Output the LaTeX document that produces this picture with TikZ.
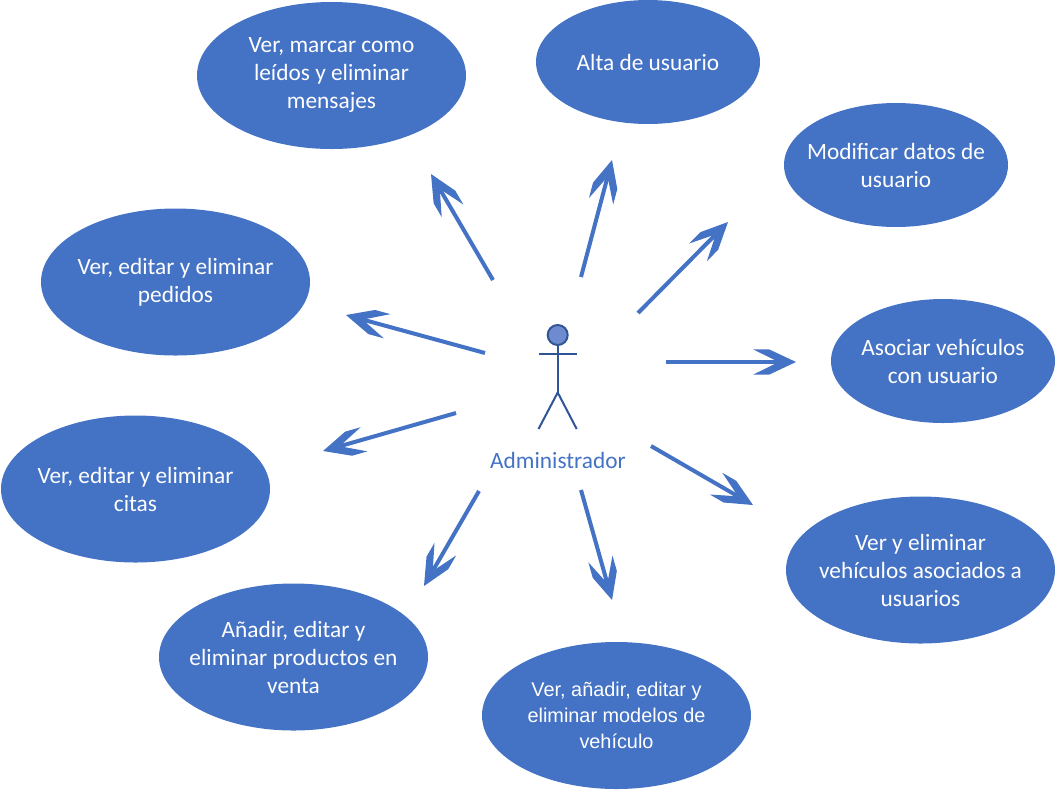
\documentclass[tikz,border=0pt]{standalone}
\usepackage{fontspec}
\setmainfont{Carlito}
\newfontfamily\arialfont{Liberation Sans}
\usetikzlibrary{shapes.geometric, arrows.meta, positioning}

\definecolor{caseblue}{HTML}{4472C4}
\definecolor{actorline}{HTML}{2F5597}
\definecolor{actorfill}{HTML}{6F8BCF}

% barbed head with the flat step on its shoulders
\pgfdeclarearrow{
    name=CaseHead,
    setup code={
        \pgfarrowssettipend{0pt}
        \pgfarrowssetlineend{-15pt}
        \pgfarrowssetbackend{-32pt}
        \pgfarrowssetvisualbackend{-15pt}
        \pgfarrowshullpoint{0pt}{0pt}
        \pgfarrowshullpoint{-32pt}{9.4pt}
        \pgfarrowshullpoint{-32pt}{-9.4pt}
    },
    drawing code={
        \pgfpathmoveto{\pgfqpoint{0pt}{0pt}}
        \pgfpathlineto{\pgfqpoint{-20pt}{9.4pt}}
        \pgfpathlineto{\pgfqpoint{-32pt}{9.4pt}}
        \pgfpathlineto{\pgfqpoint{-16pt}{1.5pt}}
        \pgfpathlineto{\pgfqpoint{-16pt}{-1.5pt}}
        \pgfpathlineto{\pgfqpoint{-32pt}{-9.4pt}}
        \pgfpathlineto{\pgfqpoint{-20pt}{-9.4pt}}
        \pgfpathclose
        \pgfusepathqfill
    }
}

\tikzset{
    usecase/.style={ellipse, fill=caseblue, text=white, align=center, inner ysep=0pt, inner xsep=-30pt, font=\fontsize{17.5}{21}\selectfont},
    bigcase/.style={usecase, minimum width=269*0.75pt, minimum height=147*0.75pt},
    smallcase/.style={usecase, minimum width=224*0.75pt, minimum height=124*0.75pt},
    assoc/.style={-CaseHead, line width=3pt, caseblue},
    stick/.style={actorline, line width=1.5pt}
}

\begin{document}
\begin{tikzpicture}[x=0.75pt, y=-0.75pt]

\useasboundingbox (0,0) rectangle (1056,790);

\node[bigcase] (mensajes) at (331.5,75.5) {Ver, marcar como\\leídos y eliminar\\mensajes};
\node[smallcase] (alta) at (648,62) {Alta de usuario};
\node[smallcase] (modificar) at (896,165) {Modificar datos de\\usuario};
\node[smallcase] (asociar) at (943,361) {Asociar vehículos\\con usuario};
\node[bigcase] (asociados) at (920.5,570) {Ver y eliminar\\vehículos asociados a\\usuarios};
\node[bigcase, font=\arialfont\fontsize{14.9}{19.5}\selectfont] (modelos) at (616.5,715.5) {Ver, añadir, editar y\\eliminar modelos de\\vehículo};
\node[bigcase] (productos) at (293.5,657) {Añadir, editar y\\eliminar productos en\\venta};
\node[bigcase] (citas) at (135.5,489) {Ver, editar y eliminar\\citas};
\node[bigcase] (pedidos) at (175.5,282) {Ver, editar y eliminar\\pedidos};

% actor
\node[circle, draw=actorline, fill=actorfill, line width=1.5pt, minimum size=20*0.75pt, inner sep=0pt] (head) at (557.7,335) {};
\coordinate (neck) at (557.7,345);
\coordinate (hip) at (557.7,392.5);
\coordinate (armL) at (538.5,354);
\coordinate (armR) at (576.7,354);
\coordinate (footL) at (538.5,429);
\coordinate (footR) at (576.7,429);
\draw[stick] (neck) -- (hip);
\draw[stick] (armL) -- (armR);
\draw[stick] (footL) -- (hip) -- (footR);
\node[text=caseblue, font=\fontsize{17.5}{21}\selectfont] (admin) at (558,460) {Administrador};

% free ends of the arrows
\coordinate (s1) at (493,280);  \coordinate (e1) at (431,174);
\coordinate (s2) at (581,277);  \coordinate (e2) at (612,160);
\coordinate (s3) at (638,313);  \coordinate (e3) at (728,222);
\coordinate (s4) at (666,362);  \coordinate (e4) at (796,362);
\coordinate (s5) at (651,446);  \coordinate (e5) at (753,505);
\coordinate (s6) at (581,490);  \coordinate (e6) at (612,600);
\coordinate (s7) at (479,491);  \coordinate (e7) at (424,586);
\coordinate (s8) at (456,413);  \coordinate (e8) at (323,451);
\coordinate (s9) at (485,353);  \coordinate (e9) at (346,315);

\draw[assoc] (s1) -- (e1);
\draw[assoc] (s2) -- (e2);
\draw[assoc] (s3) -- (e3);
\draw[assoc] (s4) -- (e4);
\draw[assoc] (s5) -- (e5);
\draw[assoc] (s6) -- (e6);
\draw[assoc] (s7) -- (e7);
\draw[assoc] (s8) -- (e8);
\draw[assoc] (s9) -- (e9);

\end{tikzpicture}
\end{document}
